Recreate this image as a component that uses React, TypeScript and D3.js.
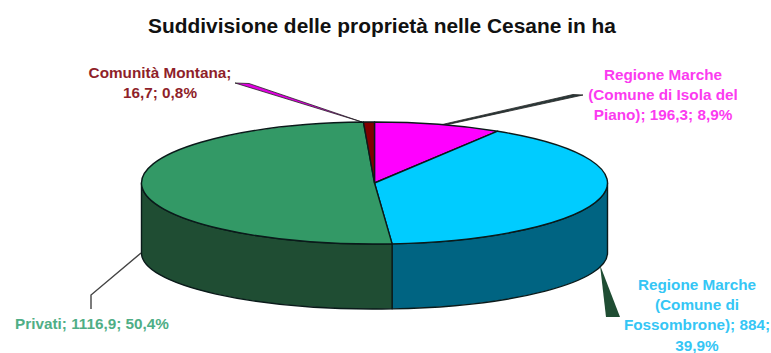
import React from "react";
import * as d3 from "d3";

// Ownership shares of the Cesane area, in hectares, clockwise from twelve o'clock
const owners = ["Regione Marche (Isola del Piano)", "Regione Marche (Fossombrone)", "Privati", "Comunità Montana"];
const hectares = [196.3, 884, 1116.9, 16.7];
const topColors = ["#ff00ff", "#00ccff", "#339966", "#800000"];
const sideColors = ["#800080", "#006482", "#1f4d33", "#400000"];
const labelColors = ["#fb3bf0", "#35c6f5", "#4fae86", "#8f1f2a"];
const labelLines = [
  ["Regione Marche", "(Comune di Isola del", "Piano); 196,3; 8,9%"],
  ["Regione Marche", "(Comune di", "Fossombrone); 884;", "39,9%"],
  ["Privati; 1116,9; 50,4%"],
  ["Comunità Montana;", "16,7; 0,8%"],
];
const labelAnchors: [number, number][] = [[663, 80], [697, 290], [92, 329], [160, 78]];
const titleText = "Suddivisione delle proprietà nelle Cesane in ha";

const cx = 374.5;
const cy = 183;
const rx = 233;
const ry = 61;
// The lower rim is a slightly flatter ellipse, so the sides run deeper at the edges
const baseCy = 253;
const baseRy = 56;
const lineHeight = 20.2;

const px = d3.scaleLinear().domain([0, 1]).range([cx, cx + rx]);
const py = d3.scaleLinear().domain([0, 1]).range([cy, cy + ry]);
const pyBase = d3.scaleLinear().domain([0, 1]).range([baseCy, baseCy + baseRy]);

const pt = (a: number): [number, number] => [px(Math.sin(a)), py(-Math.cos(a))];
const ptBase = (a: number): [number, number] => [px(Math.sin(a)), pyBase(-Math.cos(a))];

const slices = d3.pie<number>().sort(null).startAngle(0).endAngle(2 * Math.PI)(hectares);

const topPath = (s0: number, s1: number) => {
  const [x0, y0] = pt(s0);
  const [x1, y1] = pt(s1);
  const large = s1 - s0 > Math.PI ? 1 : 0;
  return `M${cx},${cy}L${x0},${y0}A${rx},${ry} 0 ${large} 1 ${x1},${y1}Z`;
};

// The rim is visible only along the front half of the ellipse
const sidePath = (s0: number, s1: number) => {
  const a0 = Math.max(s0, Math.PI / 2);
  const a1 = Math.min(s1, (3 * Math.PI) / 2);
  if (a1 <= a0) return null;
  const [x0, y0] = pt(a0);
  const [x1, y1] = pt(a1);
  const [bx1, by1] = ptBase(a1);
  const [bx0, by0] = ptBase(a0);
  return `M${x0},${y0}A${rx},${ry} 0 0 1 ${x1},${y1}L${bx1},${by1}A${rx},${baseRy} 0 0 0 ${bx0},${by0}Z`;
};

export default function App() {
  return (
    <svg
      width={771}
      height={353}
      viewBox="0 0 771 353"
      style={{ position: "absolute", left: 0, top: 0, background: "#fff" }}
      fontFamily="'Liberation Sans', Arial, sans-serif"
      fontWeight="bold"
    >
      <text x={382} y={33} textAnchor="middle" fontSize={20.9} fill="#111">
        {titleText}
      </text>

      {/* Leader lines from the slices to their labels */}
      <polygon points="235,83 249,83.5 362,122" fill="#e000e0" stroke="#222" strokeWidth={0.8} />
      <polygon points="440,125 573,94.5 583,95 441,126" fill="#2a3a3a" stroke="#222" strokeWidth={0.8} />
      <polyline points="141,253 91,295 91,309" fill="none" stroke="#444" strokeWidth={1.4} />
      <polygon points="600,265 620,317 606,317" fill="#1f4d33" />

      {slices.map((s, i) => {
        const d = sidePath(s.startAngle, s.endAngle);
        return d ? <path key={owners[i]} d={d} fill={sideColors[i]} stroke="#0a1a1a" strokeWidth={1.4} strokeLinejoin="round" /> : null;
      })}
      {slices.map((s, i) => (
        <path
          key={owners[i]}
          d={topPath(s.startAngle, s.endAngle)}
          fill={topColors[i]}
          stroke="#0a1a1a"
          strokeWidth={1.4}
          strokeLinejoin="round"
        />
      ))}

      {labelLines.map((lines, i) => (
        <text key={owners[i]} textAnchor="middle" fontSize={15.3} fill={labelColors[i]}>
          {lines.map((line, j) => (
            <tspan key={j} x={labelAnchors[i][0]} y={labelAnchors[i][1] + j * lineHeight}>
              {line}
            </tspan>
          ))}
        </text>
      ))}
    </svg>
  );
}
